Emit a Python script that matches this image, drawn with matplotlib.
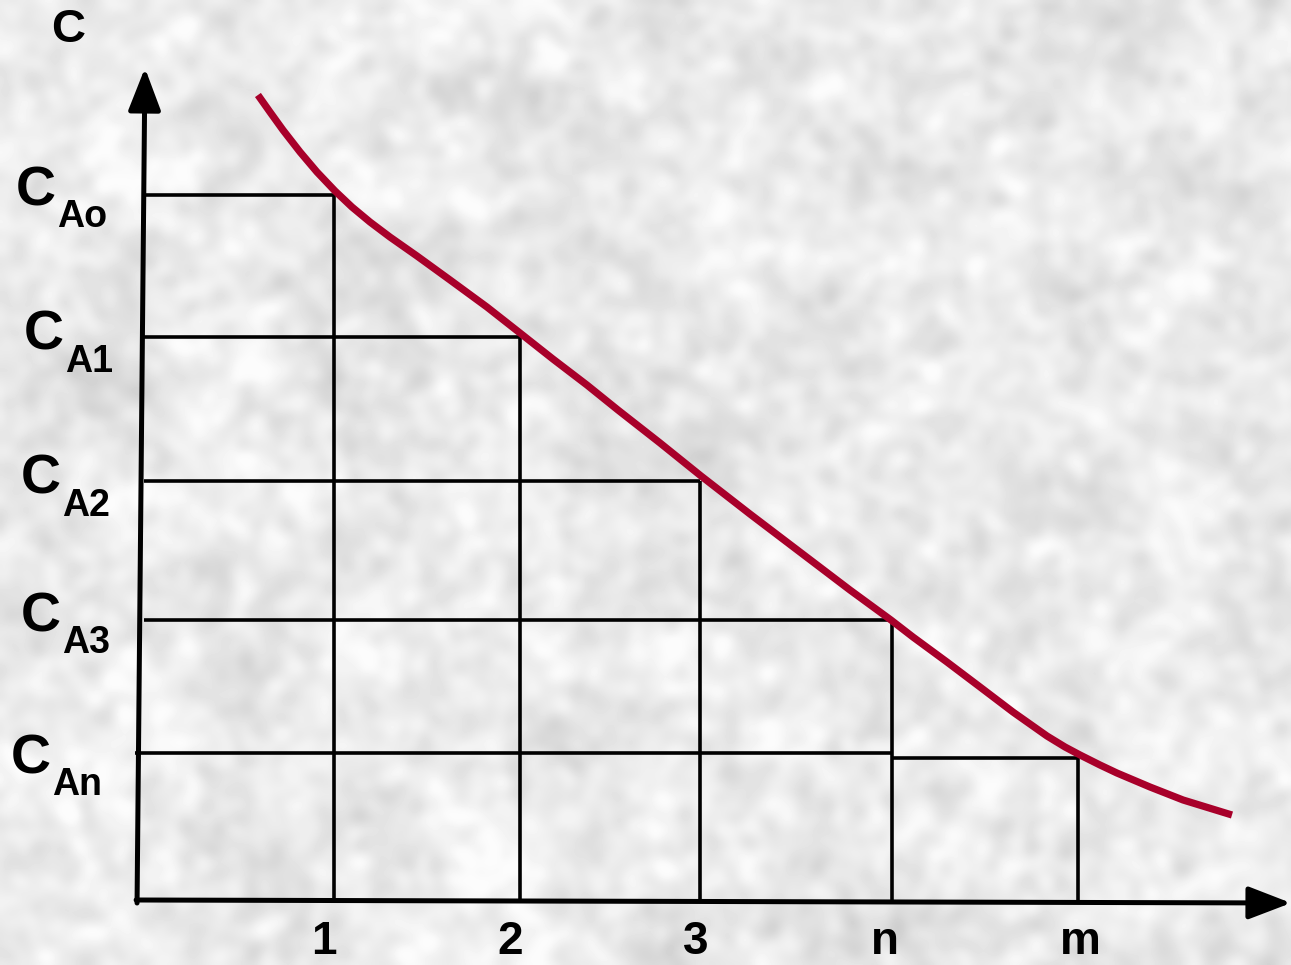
import numpy as np
import matplotlib
matplotlib.use("Agg")
import matplotlib.pyplot as plt

plt.rcParams["font.family"] = ["Liberation Sans", "DejaVu Sans"]

# ---- data -------------------------------------------------------------
stage_labels = ["1", "2", "3", "n", "m"]
stage_pos = [1.04, 2.03, 2.99, 4.01, 5.00]          # stage position on the x axis

level_subs = ["Ao", "A1", "A2", "A3", "An"]
level_conc = [7.05, 5.63, 4.19, 2.80, 1.47]         # C_A0 ... C_An
last_step_conc = 1.42                               # outlet of stage m

# concentration curve
curve_x = [0.638, 0.702, 0.771, 0.862, 0.952, 1.048, 1.138, 1.234, 1.340,
           1.484, 1.660, 1.856, 2.032, 2.207, 2.388, 2.553, 2.777, 2.995,
           3.255, 3.521, 3.787, 4.005, 4.122, 4.303, 4.479, 4.654, 4.835,
           4.931, 5.011, 5.117, 5.207, 5.383, 5.559, 5.819]
curve_c = [8.05, 7.88, 7.70, 7.48, 7.28, 7.09, 6.93, 6.78, 6.63,
           6.44, 6.20, 5.93, 5.67, 5.41, 5.15, 4.90, 4.57, 4.24,
           3.86, 3.48, 3.10, 2.80, 2.63, 2.38, 2.13, 1.88, 1.64,
           1.53, 1.45, 1.35, 1.27, 1.13, 1.00, 0.85]

# ---- figure -----------------------------------------------------------
W, H, DPI = 1291, 965, 100
fig = plt.figure(figsize=(W / DPI, H / DPI), dpi=DPI)
ax = fig.add_axes([0, 0, 1, 1])
x_lim = (-0.734, 6.133)
y_lim = (-0.65, 9.00)
ax.set_xlim(*x_lim)
ax.set_ylim(*y_lim)
ax.axis("off")

# granite-like grey paper texture behind the diagram
rng = np.random.default_rng(11)
th, tw = H // 3, W // 3


def blur(a, sigma):
    fy = np.fft.fftfreq(a.shape[0])[:, None]
    fx = np.fft.fftfreq(a.shape[1])[None, :]
    k = np.exp(-2 * (np.pi * sigma) ** 2 * (fx ** 2 + fy ** 2))
    return np.real(np.fft.ifft2(np.fft.fft2(a) * k))


def norm(a):
    return (a - a.mean()) / a.std()


fine = norm(blur(rng.normal(size=(th, tw)), 2.4))
coarse = norm(blur(rng.normal(size=(th, tw)), 9.0))
paper = np.clip(0.918 + 0.022 * fine + 0.018 * coarse, 0.80, 0.985)
ax.imshow(paper, cmap="gray", vmin=0, vmax=1, extent=(*x_lim, *y_lim),
          aspect="auto", interpolation="bicubic", zorder=0)

grid_kw = dict(color="black", lw=2.6, solid_capstyle="butt", zorder=2)
y_axis_x = 0.03

# horizontal steps: C_A0..C_A3 run to the next stage, C_An runs to stage n
h_ends = [stage_pos[0], stage_pos[1], stage_pos[2], stage_pos[3], stage_pos[3]]
h_starts = [y_axis_x, y_axis_x, y_axis_x, y_axis_x, -0.016]
for c, xs, xe in zip(level_conc, h_starts, h_ends):
    ax.plot([xs, xe], [c, c], **grid_kw)
ax.plot([stage_pos[3], stage_pos[4]], [last_step_conc, last_step_conc], **grid_kw)

# vertical stage lines
v_tops = [level_conc[0], level_conc[1], level_conc[2], level_conc[3], last_step_conc]
for xs, top in zip(stage_pos, v_tops):
    ax.plot([xs, xs], [0, top], **grid_kw)

# curve
ax.plot(curve_x, curve_c, color="#A8002A", lw=5.2, solid_capstyle="butt",
        solid_joinstyle="round", zorder=4)

# axes with arrow heads
arrow_kw = dict(arrowstyle="-|>,head_length=1.3,head_width=0.5", color="black",
                lw=3.6, shrinkA=0, shrinkB=0, mutation_scale=20)
ax.annotate("", xy=(x_lim[1], -0.03), xytext=(-0.01, 0.0),
            arrowprops=arrow_kw, annotation_clip=False, zorder=5)
ax.annotate("", xy=(0.037, 8.32), xytext=(-0.005, -0.03),
            arrowprops=arrow_kw, annotation_clip=False, zorder=5)

# axis title
ax.annotate("C", xy=(0.037, 8.32), xytext=(-77, 38), textcoords="offset pixels",
            ha="center", va="center", fontsize=34, fontweight="bold", zorder=6)

# stage labels under the x axis
label_nudge = [-10, -9, -4, -7, 2]
for xs, lab, dx in zip(stage_pos, stage_labels, label_nudge):
    ax.annotate(lab, xy=(xs, 0), xytext=(dx, -42),
                textcoords="offset pixels", ha="center", va="center",
                fontsize=33, fontweight="bold", zorder=6)

# concentration labels C with subscripts
c_offsets = [(-122, -10), (-114, -13), (-117, -13), (-117, -11), (-127, -20)]
for c, sub, (dx, dy) in zip(level_conc, level_subs, c_offsets):
    ax.annotate("C", xy=(0, c), xytext=(dx, dy), textcoords="offset pixels",
                ha="left", va="baseline", fontsize=40, fontweight="bold", zorder=6)
    ax.annotate(sub, xy=(0, c), xytext=(dx + 41, dy - 22),
                textcoords="offset pixels", ha="left", va="baseline",
                fontsize=27, fontweight="bold", zorder=6)

fig.savefig("out.png", dpi=DPI)
